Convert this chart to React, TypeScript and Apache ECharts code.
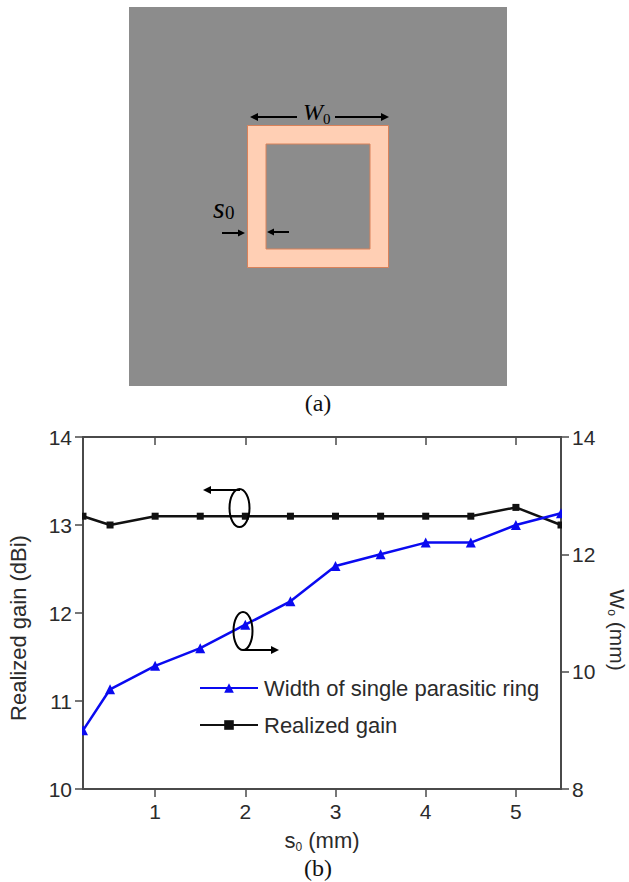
import React, { useEffect, useRef } from "react";
import * as echarts from "echarts";

const sValues = [0.2, 0.5, 1, 1.5, 2, 2.5, 3, 3.5, 4, 4.5, 5, 5.5];
const gainValues = [13.1, 13.0, 13.1, 13.1, 13.1, 13.1, 13.1, 13.1, 13.1, 13.1, 13.2, 13.0];
const widthValues = [9.0, 9.7, 10.1, 10.4, 10.8, 11.2, 11.8, 12.0, 12.2, 12.2, 12.5, 12.7];
const xTicks = [1, 2, 3, 4, 5];

const SANS = "'Liberation Sans', Arial, sans-serif";
const SERIF = "'Liberation Serif', 'Times New Roman', serif";
const INK = "#2b2b2b";
const AXIS = "#4a4a4a";

const arrow = (x1: number, x2: number, y: number, head = 8, half = 4, width = 2) => {
  const dir = x2 > x1 ? 1 : -1;
  return [
    { type: "line", z: 20, shape: { x1, y1: y, x2: x2 - dir * head, y2: y }, style: { stroke: "#000", lineWidth: width } },
    {
      type: "polygon",
      z: 20,
      shape: { points: [[x2, y], [x2 - dir * head, y - half], [x2 - dir * head, y + half]] },
      style: { fill: "#000" },
    },
  ];
};

const mask = (x: number, y: number, width: number, height: number) => ({
  type: "rect",
  z: 15,
  shape: { x, y, width, height },
  style: { fill: "#ffffff" },
});

export default function App() {
  const ref = useRef<HTMLDivElement>(null);
  useEffect(() => {
    const chart = echarts.init(ref.current!, null, { renderer: "svg" });
    const axisLine = { lineStyle: { color: AXIS, width: 2 } };
    const tickStyle = { lineStyle: { color: AXIS, width: 1.5 }, length: 8 };
    const sub = { fontSize: 12, fontFamily: SANS, color: INK, padding: [14, 0, 0, 0] };
    const subRight = { fontSize: 12, fontFamily: SANS, color: INK, padding: [10, 0, 0, 0] };
    chart.setOption({
      animation: false,
      backgroundColor: "#ffffff",
      grid: { left: 83, right: 68, top: 437, bottom: 93, containLabel: false, outerBoundsMode: "none" },
      legend: {
        orient: "vertical",
        left: 199,
        top: 677,
        padding: 0,
        itemWidth: 58,
        itemHeight: 12,
        itemGap: 15,
        selectedMode: false,
        data: ["Width of single parasitic ring", "Realized gain"],
        textStyle: { fontFamily: SANS, fontSize: 22, color: INK, padding: [0, 0, 0, 1] },
      },
      xAxis: [
        {
          type: "value",
          min: 0.2,
          max: 5.5,
          position: "bottom",
          name: "s{sub|0} (mm)",
          nameLocation: "middle",
          nameGap: 38,
          nameTextStyle: { fontFamily: SANS, fontSize: 22, color: INK, rich: { sub } },
          axisLine,
          axisTick: { ...tickStyle, inside: false, customValues: xTicks },
          axisLabel: { fontFamily: SANS, fontSize: 21, color: INK, margin: 12, customValues: xTicks },
          splitLine: { show: false },
        },
        {
          type: "value",
          min: 0.2,
          max: 5.5,
          position: "top",
          axisLine,
          axisTick: { ...tickStyle, inside: true, customValues: xTicks },
          axisLabel: { show: false },
          splitLine: { show: false },
        },
      ],
      yAxis: [
        {
          type: "value",
          min: 10,
          max: 14,
          interval: 1,
          position: "left",
          name: "Realized gain (dBi)",
          nameLocation: "middle",
          nameGap: 54,
          nameTextStyle: { fontFamily: SANS, fontSize: 22, color: INK, padding: [0, 30, 0, 0] },
          axisLine: { show: true, ...axisLine },
          axisTick: { show: true, ...tickStyle },
          axisLabel: { fontFamily: SANS, fontSize: 21, color: INK, margin: 11 },
          splitLine: { show: false },
        },
        {
          type: "value",
          min: 8,
          max: 14,
          interval: 2,
          position: "right",
          name: "W{sub|o} (mm)",
          nameLocation: "middle",
          nameRotate: -90,
          nameGap: 42,
          nameTextStyle: { fontFamily: SANS, fontSize: 21, color: INK, rich: { sub: subRight }, padding: [0, 0, 0, 34] },
          axisLine: { show: true, ...axisLine },
          axisTick: { show: true, ...tickStyle },
          axisLabel: { fontFamily: SANS, fontSize: 21, color: INK, margin: 11 },
          splitLine: { show: false },
        },
      ],
      series: [
        {
          name: "Realized gain",
          type: "line",
          xAxisIndex: 0,
          yAxisIndex: 0,
          symbol: "rect",
          symbolSize: 7,
          data: sValues.map((s, i) => [s, gainValues[i]]),
          lineStyle: { color: "#111111", width: 2.5 },
          itemStyle: { color: "#111111" },
        },
        {
          name: "Width of single parasitic ring",
          type: "line",
          xAxisIndex: 0,
          yAxisIndex: 1,
          symbol: "triangle",
          symbolSize: 10,
          data: sValues.map((s, i) => [s, widthValues[i]]),
          lineStyle: { color: "#0a0af0", width: 2.5 },
          itemStyle: { color: "#0a0af0" },
        },
      ],
      graphic: [
        { type: "rect", shape: { x: 129, y: 7, width: 378, height: 379 }, style: { fill: "#8c8c8c" } },
        { type: "rect", shape: { x: 247.5, y: 125.5, width: 141, height: 142 }, style: { fill: "#ffcfb4", stroke: "#d9825a", lineWidth: 1 } },
        { type: "rect", shape: { x: 266, y: 144, width: 104, height: 105 }, style: { fill: "#8c8c8c", stroke: "#d9825a", lineWidth: 1 } },
        ...arrow(297, 250, 117),
        ...arrow(335, 389, 117),
        { type: "text", z: 20, style: { x: 303, y: 100, text: "W", fill: "#000", font: `italic 24px ${SERIF}` } },
        { type: "text", z: 20, style: { x: 323, y: 111, text: "0", fill: "#000", font: `15px ${SERIF}` } },
        { type: "text", z: 20, style: { x: 213, y: 192, text: "s", fill: "#000", font: `italic 30px ${SERIF}` } },
        { type: "text", z: 20, style: { x: 225, y: 203, text: "0", fill: "#000", font: `19px ${SERIF}` } },
        ...arrow(222, 245, 233, 7, 3.5),
        ...arrow(289, 267, 232, 7, 3.5),
        { type: "text", style: { x: 318, y: 403, text: "(a)", align: "center", verticalAlign: "middle", fill: "#111", font: `24px ${SERIF}` } },
        { type: "text", style: { x: 318, y: 868, text: "(b)", align: "center", verticalAlign: "middle", fill: "#111", font: `24px ${SERIF}` } },
        // Markers in the reference are cut off at the plot frame.
        mask(74, 508, 8, 16),
        mask(74, 724, 8, 16),
        mask(562, 510, 8, 24),
        { type: "ellipse", z: 20, shape: { cx: 239.5, cy: 508, rx: 10, ry: 19 }, style: { fill: "transparent", stroke: "#000", lineWidth: 2 } },
        ...arrow(240, 203, 490),
        { type: "ellipse", z: 20, shape: { cx: 243, cy: 631, rx: 9.5, ry: 19 }, style: { fill: "transparent", stroke: "#000", lineWidth: 2 } },
        ...arrow(243, 279, 650),
      ],
    });
    return () => chart.dispose();
  }, []);
  return (
    <div
      ref={ref}
      style={{ position: "absolute", left: 0, top: 0, width: 629, height: 882, background: "#fff" }}
    />
  );
}
